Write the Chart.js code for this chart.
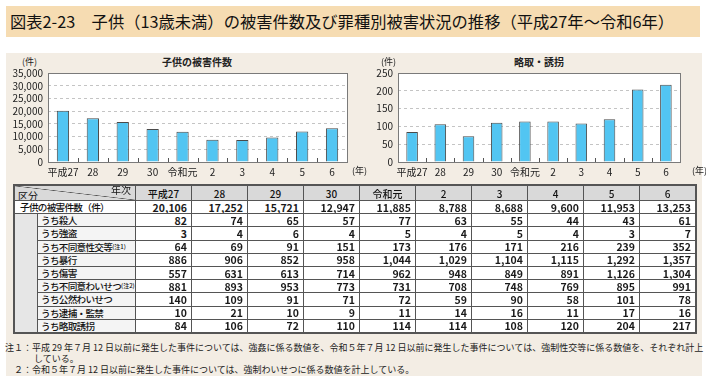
<!DOCTYPE html>
<html lang="ja">
<head>
<meta charset="utf-8">
<script src="https://cdn.jsdelivr.net/npm/chart.js@4.4.1/dist/chart.umd.min.js"></script>
<style>
  body { margin: 0; width: 706px; height: 376px; position: relative; overflow: hidden;
         background: #fff; font-family: "Noto Sans CJK JP", sans-serif; color: #111; }
  #band { position: absolute; left: 6px; top: 6px; width: 694px; height: 31px; background: #f6dcb2; }
  #band span { position: absolute; left: 4px; top: 5px; font-size: 16.3px; line-height: 20px; white-space: nowrap; }
  #panel { position: absolute; left: 6px; top: 53px; width: 696px; height: 323px; background: #f3ede4; }
  canvas { position: absolute; }
  .unit { position: absolute; font-size: 9px; line-height: 10px; color: #222; white-space: nowrap; }
  .ttl { position: absolute; font-size: 10px; font-weight: bold; line-height: 12px; white-space: nowrap;
         transform: translateX(-50%); color: #222; }
  #tbl { position: absolute; left: 13px; top: 184px; display: grid; gap: 1px; background: #555;
         border: 2px solid #555; grid-template-columns: 22px 97px repeat(10, 55px);
         grid-template-rows: 14px repeat(10, 12.2px); }
  #tbl div { background: #fff; white-space: nowrap; overflow: hidden; display: flex; align-items: center; }
  #tbl .h { background: #d9d9d9; font-size: 10px; font-weight: 500; justify-content: center; }
  #tbl .diag { grid-column: 1 / 3; position: relative;
               background: linear-gradient(to top right, #d9d9d9 calc(50% - 0.6px), #555 50%, #d9d9d9 calc(50% + 0.6px)); }
  #tbl .diag span { position: absolute; font-size: 10px; line-height: 11px; }
  #tbl .diag .a { left: 3px; bottom: -1px; }
  #tbl .diag .b { right: 4px; top: -2px; }
  #tbl .v { justify-content: flex-end; padding-right: 4px; font-size: 10.5px; font-weight: 600; color: #1a1a1a; }
  #tbl .lab { font-size: 9.6px; font-weight: 500; padding-left: 3px; background: #f4f4f4; letter-spacing: -0.7px; }
  #tbl .top { grid-column: 1 / 3; background: #fff; padding-left: 5px; }
  #tbl .ind { grid-column: 1; grid-row: 3 / 12; background: #e6e6e6; }
  sup { font-size: 6px; line-height: 0; vertical-align: 3px; letter-spacing: 0; }
  .note { position: absolute; font-size: 9px; line-height: 11px; white-space: nowrap; color: #222; }
</style>
</head>
<body>
<div id="band"><span>図表2-23　子供（13歳未満）の被害件数及び罪種別被害状況の推移（平成27年～令和6年）</span></div>
<div id="panel"></div>

<div class="unit" style="left:22px;top:57px;">(件)</div>
<div class="ttl" style="left:197px;top:56px;">子供の被害件数</div>
<canvas id="totalChart" width="355" height="125" style="left:5px;top:55px;"></canvas>
<div class="unit" style="left:352px;top:166px;">(年)</div>

<div class="unit" style="left:381px;top:57px;">(件)</div>
<div class="ttl" style="left:539px;top:56px;">略取・誘拐</div>
<canvas id="kidnapChart" width="340" height="125" style="left:355px;top:55px;"></canvas>
<div class="unit" style="left:692px;top:166px;">(年)</div>

<div id="tbl"></div>

<div class="note" style="left:5px;top:342px;">注１：平成 29 年７月 12 日以前に発生した事件については、強姦に係る数値を、令和５年７月 12 日以前に発生した事件については、強制性交等に係る数値を、それぞれ計上</div>
<div class="note" style="left:34px;top:353px;">している。</div>
<div class="note" style="left:5px;top:364px;">　２：令和５年７月 12 日以前に発生した事件については、強制わいせつに係る数値を計上している。</div>

<script>
// years shown on the axes and in the table header
const years = ["平成27", "28", "29", "30", "令和元", "2", "3", "4", "5", "6"];

// 子供の被害件数 and its breakdown by offence
const totalCases = [20106, 17252, 15721, 12947, 11885, 8788, 8688, 9600, 11953, 13253];
const murder = [82, 74, 65, 57, 77, 63, 55, 44, 43, 61];
const robbery = [3, 4, 6, 4, 5, 4, 5, 4, 3, 7];
const sexualAssault = [64, 69, 91, 151, 173, 176, 171, 216, 239, 352];
const violence = [886, 906, 852, 958, 1044, 1029, 1104, 1115, 1292, 1357];
const injury = [557, 631, 613, 714, 962, 948, 849, 891, 1126, 1304];
const indecentAssault = [881, 893, 953, 773, 731, 708, 748, 769, 895, 991];
const publicIndecency = [140, 109, 91, 71, 72, 59, 90, 58, 101, 78];
const confinement = [10, 21, 10, 9, 11, 14, 16, 11, 17, 16];
const kidnapping = [84, 106, 72, 110, 114, 114, 108, 120, 204, 217];

const subRows = [
  ["うち殺人", murder],
  ["うち強盗", robbery],
  ["うち不同意性交等<sup>(注1)</sup>", sexualAssault],
  ["うち暴行", violence],
  ["うち傷害", injury],
  ["うち不同意わいせつ<sup>(注2)</sup>", indecentAssault],
  ["うち公然わいせつ", publicIndecency],
  ["うち逮捕・監禁", confinement],
  ["うち略取誘拐", kidnapping],
];

const fmt = (n) => n.toLocaleString("en-US");

// ---- table (css grid, 1px gaps act as the rules) ----
function buildTable() {
  let html = '<div class="diag"><span class="a">区分</span><span class="b">年次</span></div>';
  years.forEach((y) => { html += `<div class="h">${y}</div>`; });
  html += '<div class="lab top">子供の被害件数（件）</div>';
  totalCases.forEach((v) => { html += `<div class="v">${fmt(v)}</div>`; });
  html += '<div class="ind"></div>';
  subRows.forEach(([label, values]) => {
    html += `<div class="lab" style="grid-column:2">${label}</div>`;
    values.forEach((v) => { html += `<div class="v">${fmt(v)}</div>`; });
  });
  document.getElementById("tbl").innerHTML = html;
}
buildTable();

// ---- charts ----
const FONT = "'Noto Sans CJK JP', sans-serif";

// white plot area, grey frame, and small ticks between categories
const plotFrame = {
  id: "plotFrame",
  beforeDraw(chart) {
    const { ctx, chartArea: a } = chart;
    ctx.save();
    ctx.fillStyle = "#fff";
    ctx.fillRect(a.left, a.top, a.right - a.left, a.bottom - a.top);
    ctx.restore();
  },
  afterDraw(chart) {
    const { ctx, chartArea: a } = chart;
    const x = chart.scales.x;
    ctx.save();
    ctx.strokeStyle = "#555";
    ctx.lineWidth = 1;
    ctx.beginPath();
    for (let i = 1; i < x.ticks.length; i++) {
      const px = Math.round((x.getPixelForTick(i - 1) + x.getPixelForTick(i)) / 2) + 0.5;
      ctx.moveTo(px, a.bottom);
      ctx.lineTo(px, a.bottom - 4);
    }
    ctx.stroke();
    ctx.strokeStyle = "#7a7a7a";
    ctx.strokeRect(Math.round(a.left) + 0.5, Math.round(a.top) + 0.5,
      Math.round(a.right - a.left), Math.round(a.bottom - a.top));
    ctx.restore();
  },
};

function makeBarChart(canvasId, values, max, step, padRight) {
  return new Chart(document.getElementById(canvasId), {
    type: "bar",
    data: {
      labels: years,
      datasets: [
        {
          data: values,
          backgroundColor: "#52c5f2",
          borderColor: "#4a4a4a",
          borderWidth: 1,
          barPercentage: 0.41,
          categoryPercentage: 1,
        },
      ],
    },
    plugins: [plotFrame],
    options: {
      responsive: false,
      animation: false,
      layout: { padding: { top: 18, right: padRight, left: 0, bottom: 0 } },
      plugins: { legend: { display: false }, tooltip: { enabled: false } },
      scales: {
        x: {
          grid: { display: false, drawTicks: false },
          border: { display: false },
          ticks: { padding: 4, color: "#222", font: { family: FONT, size: 10 }, maxRotation: 0, autoSkip: false },
          afterFit(scale) { scale.height = 18; },
        },
        y: {
          min: 0,
          max,
          grid: {
            drawTicks: false,
            color: (ctx) => (ctx.tick.value === 0 || ctx.tick.value === max ? "rgba(0,0,0,0)" : "#c4c4c4"),
          },
          border: { display: false, dash: [3, 3] },
          ticks: { stepSize: step, padding: 5, autoSkip: false, color: "#222", font: { family: FONT, size: 10 },
                   callback: (v) => fmt(v) },
          afterFit(scale) { scale.width = 43; },
        },
      },
    },
  });
}

makeBarChart("totalChart", totalCases, 35000, 5000, 13);
makeBarChart("kidnapChart", kidnapping, 250, 50, 15);
</script>
</body>
</html>
